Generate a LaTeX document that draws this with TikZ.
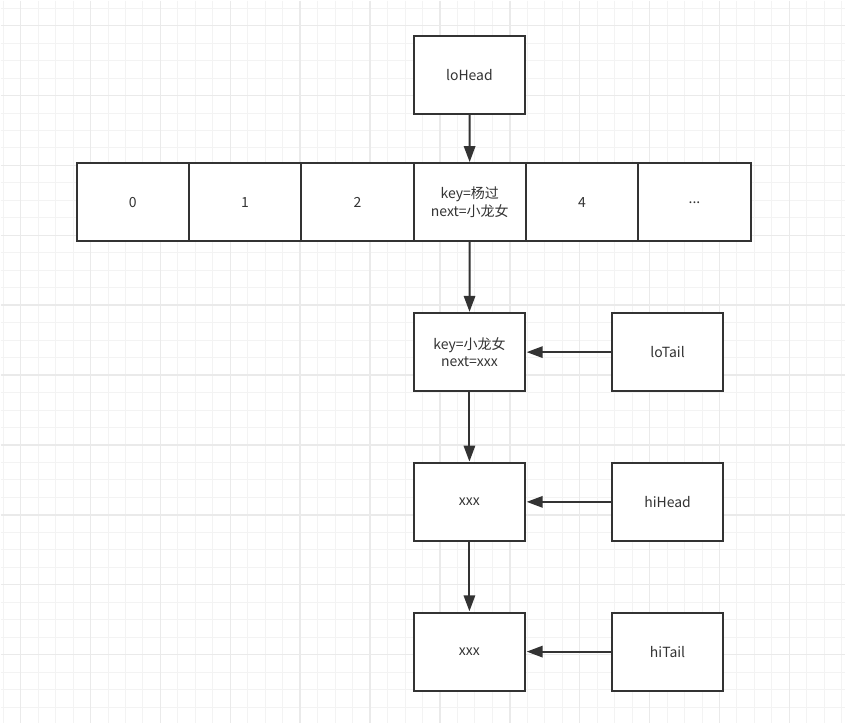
\documentclass[tikz,border=0pt]{standalone}
\usepackage{fontspec}
\setmainfont{Noto Sans CJK SC}
\usetikzlibrary{arrows.meta,positioning}
\definecolor{boxline}{RGB}{51,51,51}
\definecolor{gridminor}{RGB}{243,243,243}
\definecolor{gridmajor}{RGB}{234,234,234}
\tikzset{
  cell/.style={draw=boxline,line width=1.5pt,fill=white,outer sep=0pt,inner sep=0pt,
    minimum width=84pt,minimum height=58.5pt,align=center,text=boxline},
  slot/.style={cell,minimum width=84.4pt},
  link/.style={draw=boxline,line width=1.5pt,shorten >=1pt,
    -{Triangle[length=12pt,width=8.5pt]}},
}

\begin{document}
\begin{tikzpicture}[x=.75pt,y=-.75pt,font=\fontsize{10.5}{13.3}\selectfont]
    \fill[white] (0,0) rectangle (846,724);
    \foreach \gx in {2.5,20,...,845}{\draw[gridminor,line width=.75pt] (\gx,0) -- (\gx,724);}
    \foreach \gy in {7.5,25,...,723}{\draw[gridminor,line width=.75pt] (0,\gy) -- (846,\gy);}
    \foreach \gx in {20,90,...,790}{\draw[gridmajor,line width=1.1pt] (\gx,0) -- (\gx,724);}
    \foreach \gy in {25,95,...,655}{\draw[gridmajor,line width=1.1pt] (0,\gy) -- (846,\gy);}
    % table
    \node[slot] (a0) at (132.25,202) {0};
    \node[slot,right=0pt of a0] (a1) {1};
    \node[slot,right=0pt of a1] (a2) {2};
    \node[slot,right=0pt of a2] (a3) {key=杨过\\next=小龙女};
    \node[slot,right=0pt of a3] (a4) {4};
    \node[slot,right=0pt of a4] (a5) {...};
    \node[cell] (loHead) at (469.5,74.5) {loHead};
    % chain
    \node[cell] (n1) at (469.5,352) {key=小龙女\\next=xxx};
    \node[cell] (n2) at (469.5,502) {xxx};
    \node[cell] (n3) at (469.5,652) {xxx};
    \node[cell] (loTail) at (668,352) {loTail};
    \node[cell] (hiHead) at (668,502) {hiHead};
    \node[cell] (hiTail) at (668,652) {hiTail};
    \draw[link] (loHead) -- (a3);
    \draw[link] (a3) -- (n1);
    \draw[link] (n1) -- (n2);
    \draw[link] (n2) -- (n3);
    \draw[link] (loTail) -- (n1);
    \draw[link] (hiHead) -- (n2);
    \draw[link] (hiTail) -- (n3);
\end{tikzpicture}
\end{document}
